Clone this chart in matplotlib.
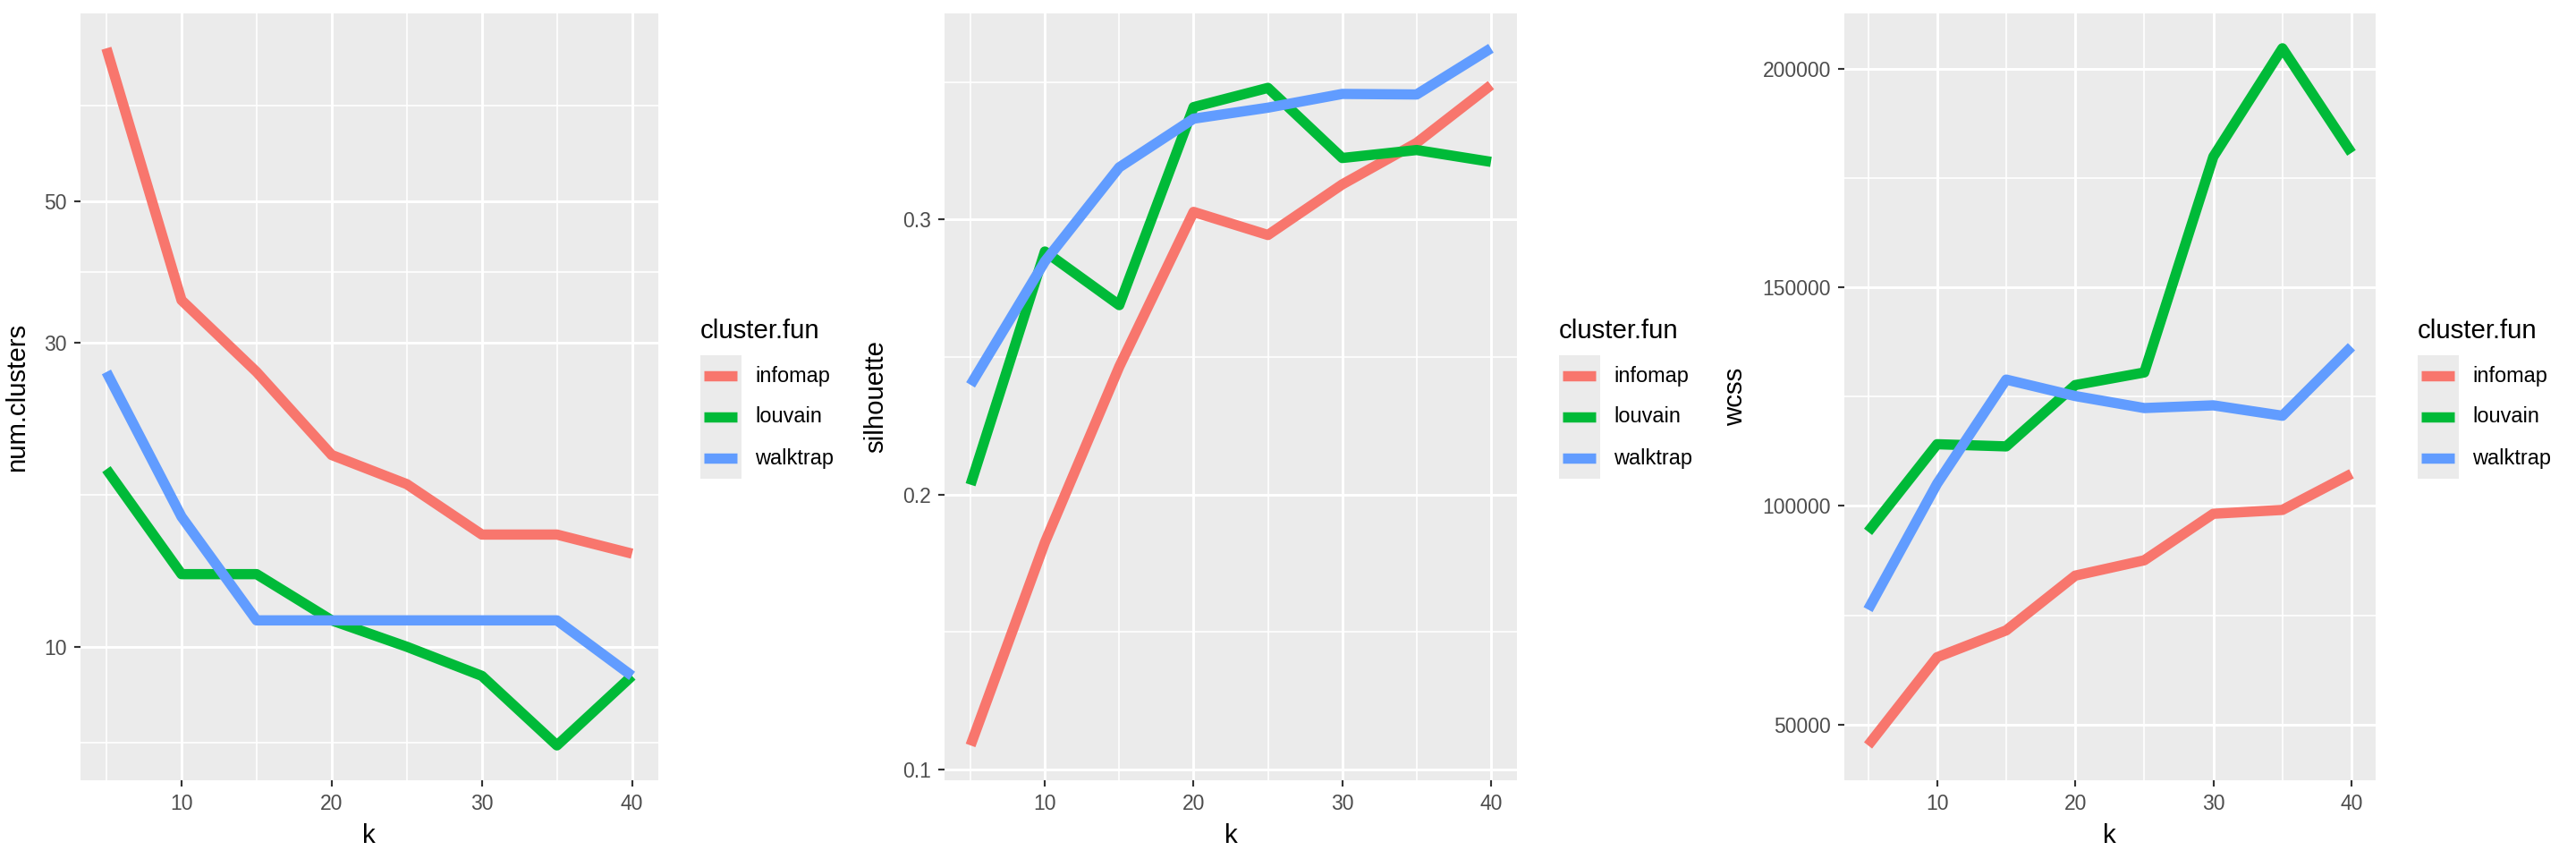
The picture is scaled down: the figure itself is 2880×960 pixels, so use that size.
import numpy as np
import matplotlib
matplotlib.use("Agg")
import matplotlib.pyplot as plt
from matplotlib.lines import Line2D
from matplotlib.patches import Rectangle
from matplotlib.ticker import FixedLocator, FuncFormatter

plt.rcParams['font.family'] = ['Liberation Sans', 'DejaVu Sans']

# values
k = [5, 10, 15, 20, 25, 30, 35, 40]
methods = ['infomap', 'louvain', 'walktrap']
colors = ['#F8766D', '#00BA38', '#619CFF']

num_clusters = {
    'infomap':  [87, 35, 27, 20, 18, 15, 15, 14],
    'louvain':  [19, 13, 13, 11, 10, 9, 7, 9],
    'walktrap': [27, 16, 11, 11, 11, 11, 11, 9],
}
silhouette = {
    'infomap':  [0.1088, 0.1826, 0.2465, 0.3028, 0.2944, 0.3128, 0.3279, 0.3489],
    'louvain':  [0.2036, 0.2884, 0.2689, 0.3409, 0.3479, 0.3224, 0.3253, 0.3210],
    'walktrap': [0.2399, 0.2848, 0.3190, 0.3367, 0.3407, 0.3457, 0.3455, 0.3623],
}
wcss = {
    'infomap':  [45240, 65400, 71540, 84060, 87570, 98210, 99090, 107350],
    'louvain':  [94080, 114110, 113610, 127640, 130520, 179860, 204650, 180730],
    'walktrap': [76300, 105100, 128890, 125130, 122380, 123000, 120620, 136400],
}

W, H = 2880, 960
fig = plt.figure(figsize=(15, 5), dpi=192)

# axes boxes in pixels: left, right, top, bottom
boxes = [(89.6, 736, 15, 872), (1056, 1696, 15, 872), (2061.5, 2656, 15, 872)]


def make_ax(box):
    l, r, t, b = box
    ax = fig.add_axes([l / W, (H - b) / H, (r - l) / W, (b - t) / H])
    ax.set_facecolor('#EBEBEB')
    for s in ax.spines.values():
        s.set_visible(False)
    ax.tick_params(axis='both', which='major', length=2.7, width=0.8, color='#333333',
                   labelsize=8.6, labelcolor='#4D4D4D', pad=2.8)
    ax.tick_params(axis='both', which='minor', length=0)
    ax.grid(which='major', color='white', linewidth=1.1)
    ax.grid(which='minor', color='white', linewidth=0.6)
    ax.set_axisbelow(True)
    ax.xaxis.set_major_locator(FixedLocator([10, 20, 30, 40]))
    ax.xaxis.set_minor_locator(FixedLocator([5, 15, 25, 35]))
    ax.set_xlim(5 - 1.75, 40 + 1.75)
    ax.set_xlabel('k', fontsize=11, labelpad=4)
    return ax


def expand(lo, hi, f=0.05):
    d = (hi - lo) * f
    return lo - d, hi + d


def draw_legend(box):
    r = box[1]
    x0 = r + 47
    fig.text(x0 / W, 1 - 370 / H, 'cluster.fun', fontsize=11, ha='left', va='center')
    fig.add_artist(Rectangle((x0 / W, 1 - 535 / H), 46 / W, 138 / H,
                             transform=fig.transFigure, facecolor='#EBEBEB', edgecolor='none'))
    for i, (m, c) in enumerate(zip(methods, colors)):
        yc = 1 - (420 + 46 * i) / H
        fig.add_artist(Line2D([(x0 + 4) / W, (x0 + 41) / W], [yc, yc], transform=fig.transFigure,
                              color=c, linewidth=4.3, solid_capstyle='butt'))
        fig.text((x0 + 61) / W, yc, m, fontsize=8.8, ha='left', va='center')


# panel 1: num.clusters on log scale
ax1 = make_ax(boxes[0])
for m, c in zip(methods, colors):
    ax1.plot(k, num_clusters[m], color=c, linewidth=4.3, solid_capstyle='butt')
ax1.set_yscale('log')
allv = np.concatenate([num_clusters[m] for m in methods])
lo, hi = expand(np.log10(allv.min()), np.log10(allv.max()))
ax1.set_ylim(10 ** lo, 10 ** hi)
ax1.yaxis.set_major_locator(FixedLocator([10, 30, 50]))
ax1.yaxis.set_minor_locator(FixedLocator([np.sqrt(50), np.sqrt(300), np.sqrt(1500), np.sqrt(5000)]))
ax1.yaxis.set_major_formatter(FuncFormatter(lambda v, p: '%d' % round(v)))
ax1.yaxis.set_minor_formatter(FuncFormatter(lambda v, p: ''))
ax1.set_ylabel('num.clusters', fontsize=11, labelpad=6)
draw_legend(boxes[0])

# panel 2: silhouette
ax2 = make_ax(boxes[1])
for m, c in zip(methods, colors):
    ax2.plot(k, silhouette[m], color=c, linewidth=4.3, solid_capstyle='butt')
allv = np.concatenate([silhouette[m] for m in methods])
ax2.set_ylim(*expand(allv.min(), allv.max()))
ax2.yaxis.set_major_locator(FixedLocator([0.1, 0.2, 0.3]))
ax2.yaxis.set_minor_locator(FixedLocator([0.15, 0.25, 0.35]))
ax2.yaxis.set_major_formatter(FuncFormatter(lambda v, p: '%.1f' % v))
ax2.set_ylabel('silhouette', fontsize=11, labelpad=6)
draw_legend(boxes[1])

# panel 3: wcss
ax3 = make_ax(boxes[2])
for m, c in zip(methods, colors):
    ax3.plot(k, wcss[m], color=c, linewidth=4.3, solid_capstyle='butt')
allv = np.concatenate([wcss[m] for m in methods])
ax3.set_ylim(*expand(allv.min(), allv.max()))
ax3.yaxis.set_major_locator(FixedLocator([50000, 100000, 150000, 200000]))
ax3.yaxis.set_minor_locator(FixedLocator([75000, 125000, 175000]))
ax3.yaxis.set_major_formatter(FuncFormatter(lambda v, p: '%d' % v))
ax3.set_ylabel('wcss', fontsize=11, labelpad=6)
draw_legend(boxes[2])

fig.savefig('out.png', dpi=192, facecolor='white')
